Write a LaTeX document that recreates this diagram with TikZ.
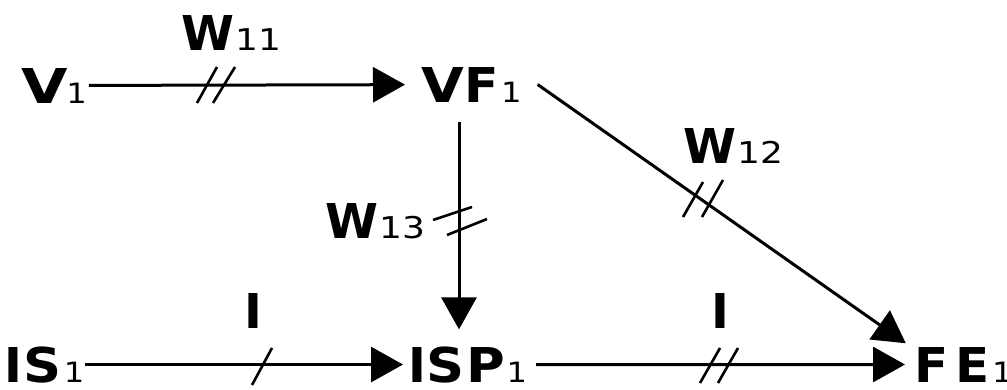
\documentclass[tikz,border=0pt]{standalone}
\usepackage{fontspec}
\setmainfont{DejaVu Sans}
\usetikzlibrary{arrows.meta,calc}
\newcommand{\sx}[2]{\scalebox{#1}[1]{#2}}
\newcommand{\subn}[1]{\sx{1.15}{\fontsize{28}{28}\selectfont\mdseries #1}}
\newcommand{\subl}[1]{\sx{1.2}{\fontsize{30}{30}\selectfont\mdseries #1}}
\tikzset{
  lbl/.style={inner sep=0pt, outer sep=0pt, anchor=base west, font=\fontsize{48}{48}\selectfont\bfseries},
  arr/.style={line width=3pt, -{Triangle[length=32pt,width=35pt]}},
  tick/.style={line width=2.6pt}
}
\begin{document}
\begin{tikzpicture}[x=1pt,y=-1pt]
\useasboundingbox (0,0) rectangle (1007,389);
% nodes
\node[lbl] (v1)  at (21,103)  {\sx{1.25}{V}\kern-1pt\subn{1}};
\node[lbl] (vf1) at (421,102) {\sx{1.15}{V}\kern1pt\sx{1.05}{F}\kern2pt\subn{1}};
\node[lbl] (is1) at (5,382)   {I\kern1pt\sx{1.1}{S}\kern2pt\subn{1}};
\node[lbl] (isp1) at (408,382) {I\kern1pt\sx{1.1}{S}\kern2pt\sx{1.1}{P}\kern1pt\subn{1}};
\node[lbl] (fe1) at (914,382) {\sx{1.04}{F}\kern7pt\sx{1.04}{E}\kern3pt\subn{1}};
% labels
\node[lbl] (w11) at (181,50)  {W\kern2pt\subl{11}};
\node[lbl] (w12) at (683,163) {W\kern2pt\subl{12}};
\node[lbl] (w13) at (325,238) {W\kern2pt\subl{13}};
\node[lbl] (i1)  at (244,328) {I};
\node[lbl] (i2)  at (711,328) {I};
% connectors
\coordinate (vx) at (459,0);
\draw[arr, shorten <=2pt, shorten >=16pt] (v1) -- (vf1);
\draw[arr, shorten <=1pt, shorten >=5pt] (is1) -- (isp1);
\draw[arr, shorten <=9pt, shorten >=9pt] (isp1) -- (fe1);
\draw[arr, shorten <=20pt, shorten >=17pt] (vf1.south -| vx) -- (isp1.north -| vx);
\draw[arr, shorten >=10pt] ([xshift=16pt]vf1.east) -- ([yshift=-2pt]fe1.north west);
% tick marks
\draw[tick] (197,103) -- (217,67);
\draw[tick] (213,103) -- (235,67);
\draw[tick] (252,385) -- (272,348);
\draw[tick] (700,383) -- (720,348);
\draw[tick] (718,383) -- (738,348);
\draw[tick] (683,217) -- (703,182);
\draw[tick] (702,217) -- (723,180);
\draw[tick] (433,220) -- (472,207);
\draw[tick] (447,235) -- (487,219);
\end{tikzpicture}
\end{document}
